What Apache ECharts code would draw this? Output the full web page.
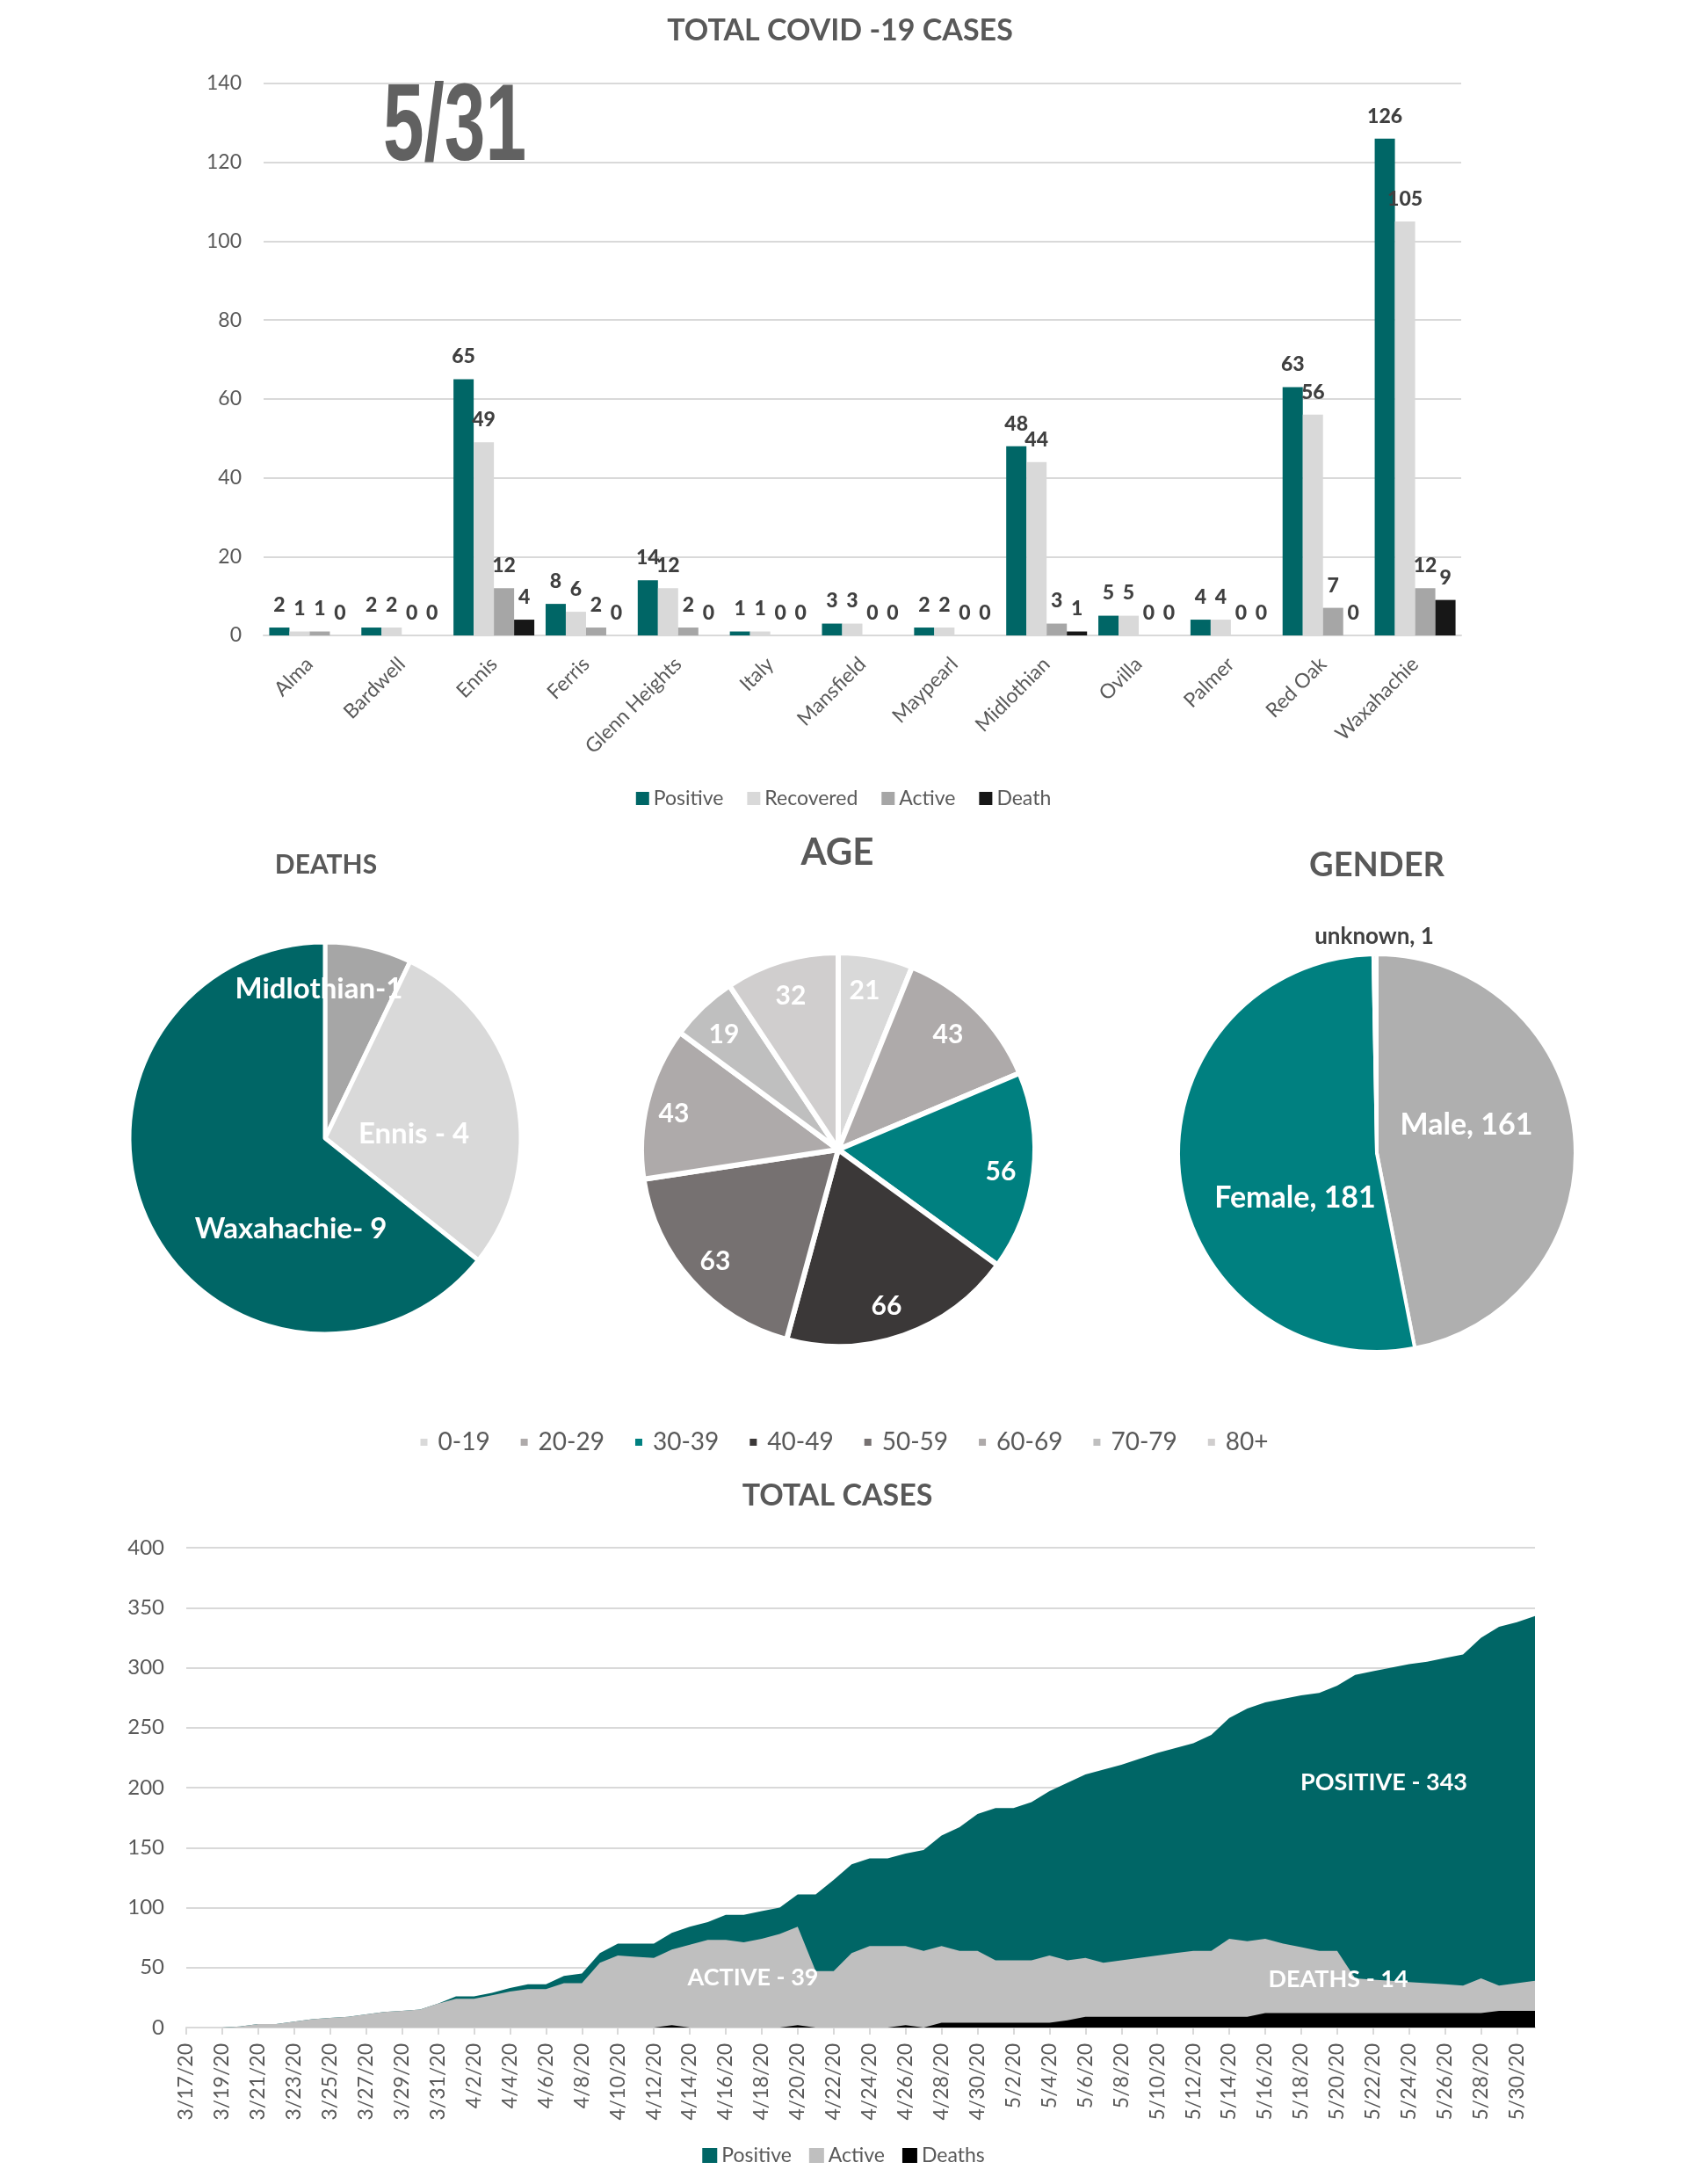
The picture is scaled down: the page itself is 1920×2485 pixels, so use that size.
<!DOCTYPE html>
<html>
<head>
<meta charset="utf-8">
<title>Total COVID-19 cases</title>
<script src="https://cdn.jsdelivr.net/npm/echarts@6/dist/echarts.min.js"></script>
<style>
  html, body { margin: 0; padding: 0; background: #fff; }
  #main { width: 1920px; height: 2485px; }
</style>
</head>
<body>
<div id="main"></div>
<script>
// cases per city
const cities = ['Alma', 'Bardwell', 'Ennis', 'Ferris', 'Glenn Heights', 'Italy', 'Mansfield', 'Maypearl', 'Midlothian', 'Ovilla', 'Palmer', 'Red Oak', 'Waxahachie'];
const cityPositive = [2, 2, 65, 8, 14, 1, 3, 2, 48, 5, 4, 63, 126];
const cityRecovered = [1, 2, 49, 6, 12, 1, 3, 2, 44, 5, 4, 56, 105];
const cityActive = [1, 0, 12, 2, 2, 0, 0, 0, 3, 0, 0, 7, 12];
const cityDeath = [0, 0, 4, 0, 0, 0, 0, 0, 1, 0, 0, 0, 9];

// pies
const deathNames = ['Midlothian-1', 'Ennis - 4', 'Waxahachie- 9'];
const deathValues = [1, 4, 9];
const ageNames = ['0-19', '20-29', '30-39', '40-49', '50-59', '60-69', '70-79', '80+'];
const ageValues = [21, 43, 56, 66, 63, 43, 19, 32];
const genderNames = ['Male', 'Female', 'unknown'];
const genderValues = [161, 181, 1];

// timeline
const days = [
  '3/17/20', '3/18/20', '3/19/20', '3/20/20', '3/21/20', '3/22/20', '3/23/20', '3/24/20', '3/25/20', '3/26/20', '3/27/20', '3/28/20', '3/29/20', '3/30/20', '3/31/20',
  '4/1/20', '4/2/20', '4/3/20', '4/4/20', '4/5/20', '4/6/20', '4/7/20', '4/8/20', '4/9/20', '4/10/20', '4/11/20', '4/12/20', '4/13/20', '4/14/20', '4/15/20',
  '4/16/20', '4/17/20', '4/18/20', '4/19/20', '4/20/20', '4/21/20', '4/22/20', '4/23/20', '4/24/20', '4/25/20', '4/26/20', '4/27/20', '4/28/20', '4/29/20', '4/30/20',
  '5/1/20', '5/2/20', '5/3/20', '5/4/20', '5/5/20', '5/6/20', '5/7/20', '5/8/20', '5/9/20', '5/10/20', '5/11/20', '5/12/20', '5/13/20', '5/14/20', '5/15/20',
  '5/16/20', '5/17/20', '5/18/20', '5/19/20', '5/20/20', '5/21/20', '5/22/20', '5/23/20', '5/24/20', '5/25/20', '5/26/20', '5/27/20', '5/28/20', '5/29/20', '5/30/20', '5/31/20'
];
const totalPositive = [
  0, 0, 0, 1, 3, 3, 5, 7, 8, 9, 11, 13, 14, 15, 20,
  26, 26, 29, 33, 36, 36, 43, 45, 62, 70, 70, 70, 79, 84, 88,
  94, 94, 97, 100, 111, 111, 123, 136, 141, 141, 145, 148, 160, 167, 178,
  183, 183, 188, 197, 204, 211, 215, 219, 224, 229, 233, 237, 244, 258, 266,
  271, 274, 277, 279, 285, 294, 297, 300, 303, 305, 308, 311, 325, 334, 338, 343
];
const totalActive = [
  0, 0, 0, 1, 3, 3, 5, 7, 8, 9, 11, 13, 14, 15, 20,
  24, 24, 27, 30, 32, 32, 37, 37, 54, 60, 59, 58, 65, 69, 73,
  73, 71, 74, 78, 84, 47, 47, 62, 68, 68, 68, 64, 68, 64, 64,
  56, 56, 56, 60, 56, 58, 54, 56, 58, 60, 62, 64, 64, 74, 72,
  74, 70, 67, 64, 64, 41, 40, 39, 38, 37, 36, 35, 41, 35, 37, 39
];
const totalDeaths = [
  0, 0, 0, 0, 0, 0, 0, 0, 0, 0, 0, 0, 0, 0, 0,
  0, 0, 0, 0, 0, 0, 0, 0, 0, 0, 0, 0, 2, 0, 0,
  0, 0, 0, 0, 2, 0, 0, 0, 0, 0, 2, 0, 4, 4, 4,
  4, 4, 4, 4, 6, 9, 9, 9, 9, 9, 9, 9, 9, 9, 9,
  12, 12, 12, 12, 12, 12, 12, 12, 12, 12, 12, 12, 12, 14, 14, 14
];

const TEAL = '#006666';
const TEAL2 = '#008080';
const GRID = '#d9d9d9';
const TEXT = '#595959';
const FONT = 'Lato';

const deathColors = ['#a6a6a6', '#d9d9d9', TEAL];
const ageColors = ['#d9d9d9', '#aeaaaa', TEAL2, '#3b3838', '#767171', '#aeaaaa', '#bfbfbf', '#d0cece'];
const genderColors = ['#afafaf', TEAL2, '#a6a6a6'];

// label spots inside the pies, page pixels
const deathSpots = [[363, 1125], [471, 1290], [331, 1398]];
const ageSpots = [[984, 1127], [1079, 1177], [1139, 1333], [1009, 1486], [814, 1435], [767, 1267], [824, 1177], [900, 1133]];
const genderSpots = [[1669, 1280], [1474, 1363], [1564, 1066]];

function citySeries(name, values, color) {
    return {
        name: name,
        type: 'bar',
        xAxisIndex: 0,
        yAxisIndex: 0,
        data: values,
        barWidth: 23,
        barGap: '0%',
        itemStyle: { color: color },
        label: { show: true, position: 'top', distance: 14, fontSize: 23, fontWeight: 900, color: '#404040', fontFamily: FONT }
    };
}

function areaSeries(name, values, color) {
    return {
        name: name,
        type: 'line',
        xAxisIndex: 1,
        yAxisIndex: 1,
        data: values,
        showSymbol: false,
        lineStyle: { width: 0 },
        itemStyle: { color: color },
        areaStyle: { color: color, opacity: 1 }
    };
}

function pieSeries(names, values, colors, center, radius, spots, gap, fontSize, formatter) {
    return {
        type: 'pie',
        center: center,
        radius: radius,
        startAngle: 90,
        avoidLabelOverlap: false,
        data: names.map((n, i) => ({ name: n, value: values[i], itemStyle: { color: colors[i] } })),
        itemStyle: { borderColor: '#fff', borderWidth: gap },
        label: { show: true, position: 'inside', color: '#fff', fontWeight: 'bold', fontSize: fontSize, fontFamily: FONT, formatter: formatter },
        labelLine: { show: false },
        labelLayout: p => ({ x: spots[p.dataIndex][0], y: spots[p.dataIndex][1], align: 'center', verticalAlign: 'middle' })
    };
}

function heading(text, x, y, size) {
    return { text: text, left: x, top: y, textAlign: 'center', textStyle: { color: TEXT, fontSize: size, fontWeight: 'bold', fontFamily: FONT } };
}

function note(text, x, y) {
    return { type: 'text', x: x, y: y, z: 50, style: { text: text, fill: '#fff', font: 'bold 27px Lato', align: 'center', verticalAlign: 'middle' } };
}

const genderPie = pieSeries(genderNames, genderValues, genderColors, [1567, 1312], 226, genderSpots, 4, 34, '{b}, {c}');
genderPie.data[2].label = { color: '#404040', fontSize: 26 };

const option = {
    animation: false,
    backgroundColor: '#fff',
    textStyle: { fontFamily: FONT },
    title: [
        heading('TOTAL COVID -19 CASES', 951, 13, 34),
        heading('DEATHS', 366, 964, 30),
        heading('AGE', 948, 944, 42),
        heading('GENDER', 1562, 961, 38),
        heading('TOTAL CASES', 948, 1680, 34)
    ],
    grid: [
        { left: 300, top: 95, width: 1363, height: 628 },
        { left: 212, top: 1761, width: 1535, height: 546 }
    ],
    xAxis: [
        {
            gridIndex: 0,
            type: 'category',
            data: cities,
            axisLine: { lineStyle: { color: GRID, width: 2 } },
            axisTick: { show: false },
            axisLabel: { rotate: 45, margin: 29, fontSize: 23, color: TEXT, interval: 0 }
        },
        {
            gridIndex: 1,
            type: 'category',
            data: days,
            boundaryGap: false,
            axisLine: { lineStyle: { color: GRID, width: 2 } },
            axisTick: { interval: 1, length: 8, lineStyle: { color: GRID, width: 2 } },
            axisLabel: { rotate: 90, margin: 18, fontSize: 23, color: TEXT, interval: 1 }
        }
    ],
    yAxis: [
        {
            gridIndex: 0,
            type: 'value',
            min: 0,
            max: 140,
            interval: 20,
            axisLine: { show: false },
            axisTick: { show: false },
            splitLine: { lineStyle: { color: GRID, width: 2 } },
            axisLabel: { margin: 25, fontSize: 23, color: TEXT }
        },
        {
            gridIndex: 1,
            type: 'value',
            min: 0,
            max: 400,
            interval: 50,
            axisLine: { show: false },
            axisTick: { show: false },
            splitLine: { lineStyle: { color: GRID, width: 2 } },
            axisLabel: { margin: 25, fontSize: 24, color: TEXT }
        }
    ],
    legend: [
        {
            data: ['Positive', 'Recovered', 'Active', 'Death'],
            left: 'center',
            top: 892,
            icon: 'rect',
            itemWidth: 15,
            itemHeight: 15,
            itemGap: 27,
            textStyle: { fontSize: 23, color: TEXT, fontFamily: FONT }
        },
        {
            data: ageNames,
            left: 'center',
            top: 1622,
            icon: 'rect',
            itemWidth: 10,
            itemHeight: 10,
            itemGap: 33,
            textStyle: { fontSize: 28, color: TEXT, fontFamily: FONT, padding: [0, 0, 0, 6] }
        },
        {
            data: [
                { name: 'Positive', itemStyle: { color: TEAL } },
                { name: 'Active', itemStyle: { color: '#bfbfbf' } },
                { name: 'Deaths', itemStyle: { color: '#000' } }
            ],
            left: 'center',
            top: 2436,
            icon: 'rect',
            itemWidth: 17,
            itemHeight: 17,
            itemGap: 20,
            textStyle: { fontSize: 23, color: TEXT, fontFamily: FONT }
        }
    ],
    series: [
        citySeries('Positive', cityPositive, TEAL),
        citySeries('Recovered', cityRecovered, '#d9d9d9'),
        citySeries('Active', cityActive, '#a6a6a6'),
        citySeries('Death', cityDeath, '#171717'),
        pieSeries(deathNames, deathValues, deathColors, [370, 1295], 223, deathSpots, 5, 33, '{b}'),
        pieSeries(ageNames, ageValues, ageColors, [954, 1308], 224, ageSpots, 6, 30, '{c}'),
        genderPie,
        areaSeries('Positive', totalPositive, TEAL),
        areaSeries('Active', totalActive, '#bfbfbf'),
        areaSeries('Deaths', totalDeaths, '#000')
    ],
    graphic: [
        {
            type: 'text',
            x: 436,
            y: 148,
            scaleX: 0.67,
            z: 50,
            style: { text: '5/31', fill: '#616161', font: 'bold 125px "Liberation Sans"', align: 'left', verticalAlign: 'middle' }
        },
        note('POSITIVE - 343', 1575, 2028),
        note('DEATHS - 14', 1523, 2252),
        note('ACTIVE - 39', 857, 2250)
    ]
};

const myChart = echarts.init(document.getElementById('main'));
myChart.setOption(option);
</script>
</body>
</html>
